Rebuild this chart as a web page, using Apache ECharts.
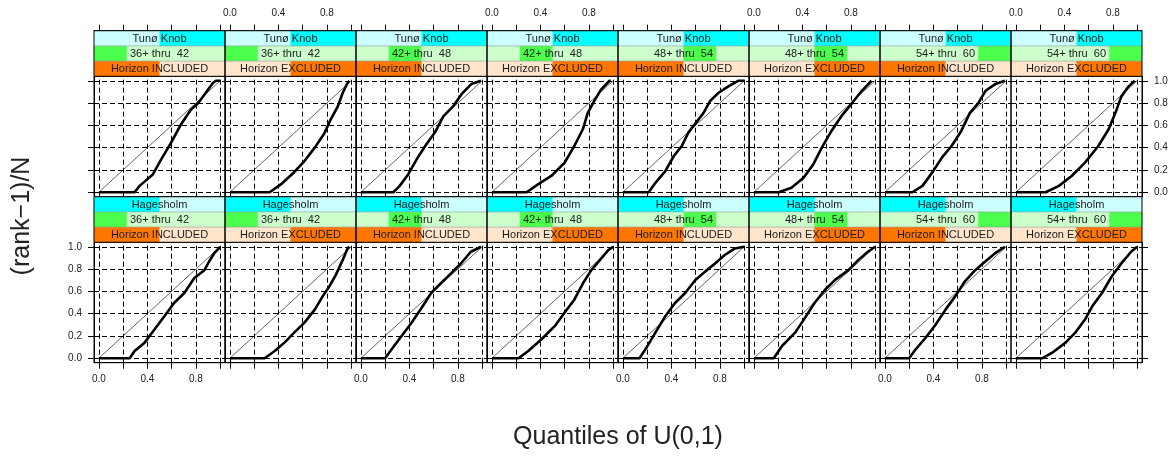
<!DOCTYPE html>
<html><head><meta charset="utf-8">
<script src="https://cdn.jsdelivr.net/npm/echarts@6/dist/echarts.min.js"></script>
<style>html,body{margin:0;padding:0;background:#fff;}#c{width:1172px;height:456px;}</style>
</head><body><div id="c"></div>
<script>
// ---- categories / labels ----
const sites = ['Tunø Knob', 'Hagesholm'];           // top row, bottom row
const ageBands = ['36+ thru  42', '42+ thru  48', '48+ thru  54', '54+ thru  60'];
const horizons = ['Horizon INCLUDED', 'Horizon EXCLUDED'];
const xTickValues = [0, 0.2, 0.4, 0.6, 0.8, 1.0];
const xTickLabels = [0, 0.4, 0.8];
const yTickValues = [0, 0.2, 0.4, 0.6, 0.8, 1.0];
const xTitle = 'Quantiles of U(0,1)';
const yTitle = '(rank\u22121)/N';

// ---- curve data [quantile of U(0,1), (rank-1)/N] ----
const tunoInc36 = [[0,0],[0.295,0],[0.336,0.057],[0.445,0.16],[0.514,0.295],[0.596,0.445],[0.678,0.61],[0.76,0.743],[0.82,0.80],[0.88,0.89],[0.94,0.98],[0.965,1],[1,1]];
const tunoExc36 = [[0,0],[0.328,0],[0.42,0.07],[0.53,0.18],[0.615,0.28],[0.70,0.40],[0.78,0.53],[0.83,0.65],[0.89,0.77],[0.93,0.89],[0.97,0.98],[0.985,1]];
const tunoInc42 = [[0,0],[0.268,0],[0.32,0.057],[0.39,0.16],[0.46,0.295],[0.53,0.415],[0.61,0.535],[0.68,0.68],[0.76,0.77],[0.83,0.88],[0.91,0.97],[0.99,1]];
const tunoExc42 = [[0,0],[0.287,0],[0.38,0.07],[0.49,0.146],[0.60,0.266],[0.68,0.415],[0.75,0.565],[0.79,0.71],[0.85,0.83],[0.90,0.92],[0.97,1],[0.98,1]];
const tunoInc48 = [[0,0],[0.213,0],[0.27,0.087],[0.35,0.19],[0.42,0.325],[0.486,0.415],[0.54,0.535],[0.60,0.62],[0.664,0.71],[0.72,0.82],[0.787,0.89],[0.87,0.95],[0.95,1],[1,1]];
const tunoExc48 = [[0,0],[0.205,0],[0.31,0.04],[0.41,0.13],[0.49,0.25],[0.56,0.40],[0.64,0.55],[0.72,0.68],[0.81,0.80],[0.89,0.91],[0.97,1]];
const tunoInc54 = [[0,0],[0.227,0],[0.31,0.057],[0.39,0.176],[0.47,0.31],[0.55,0.415],[0.63,0.55],[0.70,0.71],[0.77,0.80],[0.83,0.91],[0.91,0.97],[0.99,1]];
const tunoExc54 = [[0,0],[0.246,0],[0.355,0.057],[0.46,0.146],[0.57,0.266],[0.68,0.415],[0.765,0.565],[0.82,0.71],[0.87,0.86],[0.93,0.95],[0.98,1]];
const hageInc36 = [[0,0],[0.254,0],[0.295,0.065],[0.377,0.14],[0.46,0.26],[0.54,0.377],[0.62,0.496],[0.705,0.585],[0.787,0.72],[0.87,0.79],[0.91,0.87],[0.95,0.94],[1,1]];
const hageExc36 = [[0,0],[0.287,0],[0.37,0.065],[0.45,0.14],[0.53,0.23],[0.615,0.32],[0.70,0.436],[0.765,0.555],[0.82,0.644],[0.874,0.748],[0.93,0.88],[0.97,0.985],[0.985,1]];
const hageInc42 = [[0,0],[0.2,0],[0.254,0.08],[0.336,0.2],[0.418,0.318],[0.50,0.45],[0.58,0.585],[0.66,0.674],[0.745,0.763],[0.825,0.85],[0.907,0.955],[0.99,1]];
const hageExc42 = [[0,0],[0.22,0],[0.30,0.065],[0.41,0.17],[0.52,0.29],[0.60,0.41],[0.68,0.525],[0.75,0.67],[0.82,0.79],[0.89,0.88],[0.96,0.97],[1,1]];
const hageInc48 = [[0,0],[0.137,0],[0.186,0.08],[0.268,0.23],[0.35,0.377],[0.43,0.496],[0.514,0.585],[0.596,0.70],[0.678,0.777],[0.76,0.85],[0.84,0.926],[0.924,0.985],[1,1]];
const hageExc48 = [[0,0],[0.164,0],[0.232,0.11],[0.34,0.23],[0.42,0.36],[0.50,0.496],[0.587,0.614],[0.67,0.703],[0.78,0.79],[0.86,0.88],[0.94,0.955],[1,1]];
const hageInc54 = [[0,0],[0.2,0],[0.254,0.08],[0.336,0.184],[0.418,0.30],[0.50,0.436],[0.58,0.555],[0.66,0.69],[0.745,0.79],[0.825,0.866],[0.907,0.94],[0.99,1]];
const hageExc54 = [[0,0],[0.22,0],[0.30,0.05],[0.41,0.14],[0.49,0.23],[0.57,0.347],[0.63,0.466],[0.71,0.585],[0.79,0.733],[0.87,0.85],[0.95,0.955],[1,1]];

const curves = [
  [tunoInc36, tunoExc36, tunoInc42, tunoExc42, tunoInc48, tunoExc48, tunoInc54, tunoExc54],
  [hageInc36, hageExc36, hageInc42, hageExc42, hageInc48, hageExc48, hageInc54, hageExc54]
];

// ---- layout ----
const L0 = 94, W = 131, TOP0 = 30.7, SH = 15.2, PH = 120.4;
const FONT = 'Liberation Sans, Arial, sans-serif';
const siteCol = ['#ccffff', '#00ffff'];
const ageCol = ['#ccffcc', '#4cff4c'];
const horCol = ['#ffe5cc', '#ff7700'];

const chart = echarts.init(document.getElementById('c'));
const grids = [], xAxes = [], yAxes = [], series = [], graphics = [];
let idx = 0;
for (let r = 0; r < 2; r++) {
  for (let c = 0; c < 8; c++) {
    const gl = L0 + c * W;
    const stripTop = TOP0 + r * (3 * SH + PH);
    const gt = stripTop + 3 * SH;
    const ageIdx = Math.floor(c / 2), horIdx = c % 2;
    const siteLevel = r === 0 ? 1 : 0;  // Hagesholm = level 1, Tunø Knob = level 2
    grids.push({left: gl, top: gt, width: W, height: PH, show: true, borderColor: '#000', borderWidth: 1, backgroundColor: 'transparent'});
    const showXLab = r === 0 ? (c % 2 === 1) : (c % 2 === 0);
    xAxes.push({
      gridIndex: idx, type: 'value', min: -0.04, max: 1.04,
      position: r === 0 ? 'top' : 'bottom', offset: r === 0 ? 3 * SH : 0,
      axisLine: {show: true, onZero: false, lineStyle: {color: '#000', width: 1}},
      axisTick: {show: true, customValues: xTickValues, length: 6, lineStyle: {color: '#000', width: 1}},
      axisLabel: {show: showXLab, customValues: xTickLabels, formatter: v => v.toFixed(1), margin: 12, fontSize: 10, color: '#222', fontFamily: FONT},
      splitLine: {show: false}
    });
    const showYTick = c === 0 || c === 7;
    const showYLab = (c === 0 && r === 1) || (c === 7 && r === 0);
    yAxes.push({
      gridIndex: idx, type: 'value', min: -0.04, max: 1.04,
      position: c === 7 ? 'right' : 'left',
      axisLine: {show: true, onZero: false, lineStyle: {color: '#000', width: 1}},
      axisTick: {show: showYTick, customValues: yTickValues, length: 6, lineStyle: {color: '#000', width: 1}},
      axisLabel: {show: showYLab, customValues: yTickValues, formatter: v => v.toFixed(1), margin: 12, fontSize: 10, color: '#222', fontFamily: FONT},
      splitLine: {show: false}
    });
    // reference diagonal + dashed reference grid
    series.push({
      type: 'line', xAxisIndex: idx, yAxisIndex: idx, data: [[0, 0], [1, 1]],
      showSymbol: false, silent: true, animation: false, z: 3,
      lineStyle: {color: '#666', width: 1},
      markLine: {
        silent: true, animation: false, symbol: ['none', 'none'], label: {show: false},
        lineStyle: {color: '#000', width: 1, type: [5, 3]},
        emphasis: {disabled: true},
        data: xTickValues.map(v => ({xAxis: v})).concat(yTickValues.map(v => ({yAxis: v})))
      }
    });
    series.push({
      type: 'line', xAxisIndex: idx, yAxisIndex: idx, data: curves[r][c],
      showSymbol: false, silent: true, animation: false, z: 4,
      lineStyle: {color: '#000', width: 2.6}
    });
    // strips (top: site, middle: age band, bottom: horizon)
    const strips = [
      {text: sites[r], cols: siteCol, lv: siteLevel, n: 2},
      {text: ageBands[ageIdx], cols: ageCol, lv: ageIdx, n: 4},
      {text: horizons[horIdx], cols: horCol, lv: horIdx, n: 2}
    ];
    strips.forEach((s, k) => {
      const sy = stripTop + k * SH;
      graphics.push({type: 'rect', shape: {x: gl, y: sy, width: W, height: SH}, style: {fill: s.cols[0]}, silent: true, z: 1});
      graphics.push({type: 'rect', shape: {x: gl + W * s.lv / s.n, y: sy, width: W / s.n, height: SH}, style: {fill: s.cols[1]}, silent: true, z: 2});
      graphics.push({type: 'line', shape: {x1: gl, y1: sy, x2: gl + W, y2: sy}, style: {stroke: '#999', lineWidth: 0.6}, silent: true, z: 3});
      graphics.push({type: 'text', x: gl + W / 2, y: sy + SH / 2 + 0.5, style: {text: s.text, fill: '#1a1a1a', font: '11px ' + FONT, textAlign: 'center', textVerticalAlign: 'middle'}, silent: true, z: 3});
    });
    graphics.push({type: 'rect', shape: {x: gl, y: stripTop, width: W, height: 3 * SH}, style: {fill: 'none', stroke: '#000', lineWidth: 1}, silent: true, z: 4});
    idx++;
  }
}
graphics.push({type: 'text', x: 618, y: 437, style: {text: xTitle, fill: '#222', font: '25px ' + FONT, textAlign: 'center', textVerticalAlign: 'middle'}, silent: true});
graphics.push({type: 'text', x: 22, y: 216, rotation: Math.PI / 2, style: {text: yTitle, fill: '#222', font: '25px ' + FONT, textAlign: 'center', textVerticalAlign: 'middle'}, silent: true});

chart.setOption({
  animation: false,
  backgroundColor: '#fff',
  grid: grids, xAxis: xAxes, yAxis: yAxes, series: series,
  graphic: graphics
});
</script></body></html>
